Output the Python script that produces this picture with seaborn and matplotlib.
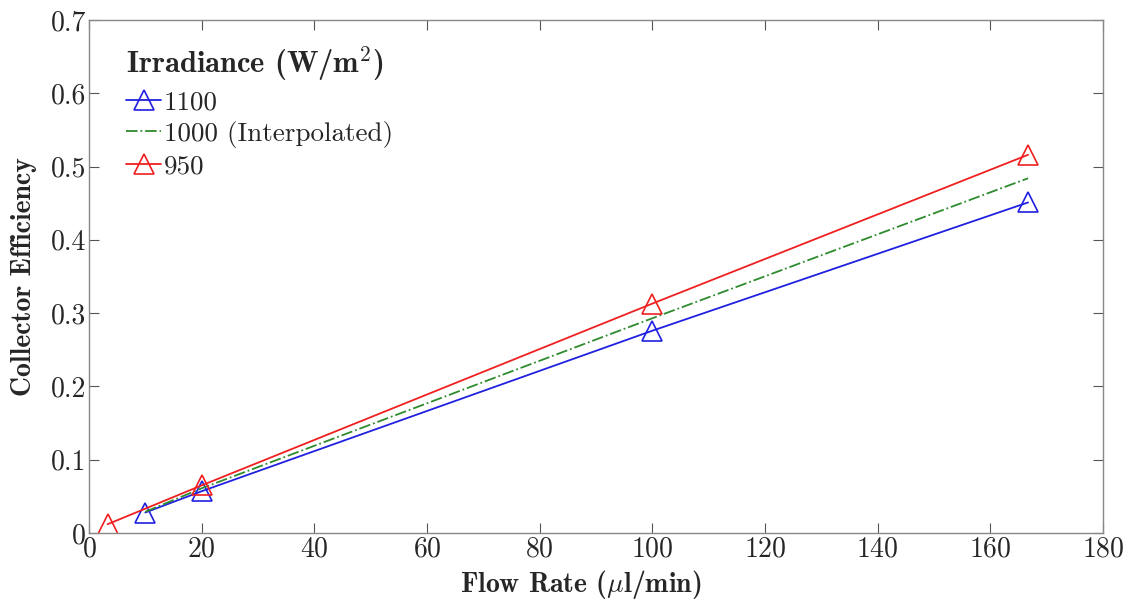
import matplotlib
matplotlib.use("Agg")
import matplotlib.pyplot as plt
import seaborn as sns
import pandas as pd

flow_1100 = [10, 20, 100, 166.7]
eff_1100 = [0.028, 0.057, 0.276, 0.451]
flow_1000 = [10, 20, 100, 166.7]
eff_1000 = [0.029, 0.061, 0.293, 0.484]
flow_950 = [3.3, 20, 100, 166.7]
eff_950 = [0.012, 0.065, 0.313, 0.516]
labels = ["1100", "1000 (Interpolated)", "950"]

sns.set_style("ticks")
plt.rcParams["font.family"] = ["cmr10", "DejaVu Serif"]
plt.rcParams["mathtext.fontset"] = "cm"
plt.rcParams["axes.formatter.use_mathtext"] = True
plt.rcParams["axes.unicode_minus"] = False

fig = plt.figure(figsize=(11.35, 6.04), dpi=100)
ax = fig.add_axes([0.0784, 0.1175, 0.8934, 0.8495])

d1 = pd.DataFrame({"x": flow_1100, "y": eff_1100})
d2 = pd.DataFrame({"x": flow_1000, "y": eff_1000})
d3 = pd.DataFrame({"x": flow_950, "y": eff_950})

sns.lineplot(data=d1, x="x", y="y", ax=ax, color="#2020e0", lw=1.3, marker="^",
             markersize=15, markerfacecolor="none", markeredgecolor="#2020e0",
             markeredgewidth=1.2, label=labels[0])
sns.lineplot(data=d2, x="x", y="y", ax=ax, color="#2e8b2e", lw=1.3,
             linestyle="-.", label=labels[1])
sns.lineplot(data=d3, x="x", y="y", ax=ax, color="#f02020", lw=1.3, marker="^",
             markersize=15, markerfacecolor="none", markeredgecolor="#f02020",
             markeredgewidth=1.2, label=labels[2])

ax.set_xlim(0, 180)
ax.set_ylim(0, 0.7)
ax.set_xticks(range(0, 181, 20))
ax.set_yticks([0, 0.1, 0.2, 0.3, 0.4, 0.5, 0.6, 0.7])
ax.set_yticklabels(["0", "0.1", "0.2", "0.3", "0.4", "0.5", "0.6", "0.7"])
ax.tick_params(direction="in", top=True, right=True, labelsize=20,
               length=7, color="#555555", width=0.8, pad=2)
for s in ax.spines.values():
    s.set_color("#888888")
    s.set_linewidth(1.0)

ax.set_xlabel(r"Flow Rate ($\mu$l/min)", fontsize=20, fontweight="bold",
              family=["cmb10", "DejaVu Serif"], labelpad=4)
ax.xaxis.label.set_x(0.485)
ax.set_ylabel("Collector Efficiency", fontsize=20, fontweight="bold",
              family=["cmb10", "DejaVu Serif"], labelpad=10)

leg = ax.legend(loc="upper left", frameon=False, fontsize=19.5,
                title=r"Irradiance (W/m$^\mathbf{2}$)", handlelength=1.3,
                handletextpad=0.1, labelspacing=0.25, borderaxespad=0.6,
                bbox_to_anchor=(0.01, 1.005))
leg.get_title().set_fontsize(22)
leg.get_title().set_family(["cmb10", "DejaVu Serif"])
leg._legend_box.align = "left"

fig.savefig("out.png", dpi=100)
